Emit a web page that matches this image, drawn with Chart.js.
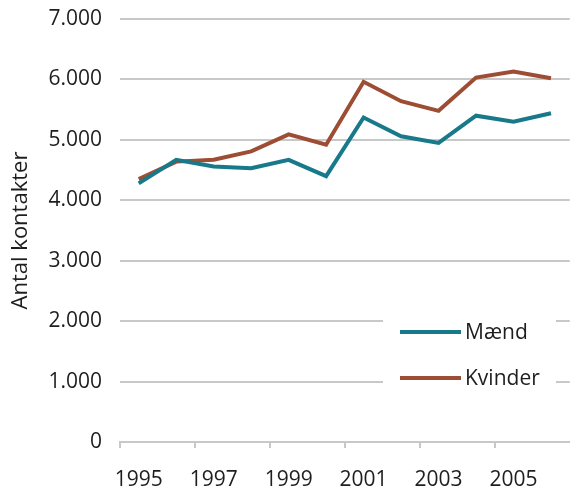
<!DOCTYPE html>
<html>
<head>
<meta charset="utf-8">
<script src="https://cdn.jsdelivr.net/npm/chart.js@4"></script>
<style>
  html, body { margin: 0; padding: 0; background: #fff; }
  #wrap { width: 570px; height: 486px; }
</style>
</head>
<body>
<div id="wrap"><canvas id="chart" width="570" height="486"></canvas></div>
<script>
// Kontakter pr. år
const years = ['1995', '1996', '1997', '1998', '1999', '2000', '2001', '2002', '2003', '2004', '2005', '2006'];
const maend = [4280, 4670, 4560, 4530, 4670, 4400, 5370, 5060, 4950, 5400, 5300, 5440];
const kvinder = [4350, 4640, 4670, 4810, 5090, 4920, 5960, 5640, 5480, 6030, 6130, 6020];
const yTicks = [0, 1000, 2000, 3000, 4000, 5000, 6000, 7000];

const FONT = '"Open Sans", sans-serif';
const GRID = '#c8c8c8';
const TXT = '#1e1e1e';

function fmt(v) {
    return String(v).replace(/\B(?=(\d{3})+(?!\d))/g, '.');
}

// legend box drawn inside the plot, bottom right
const insideLegend = {
    id: 'insideLegend',
    afterDatasetsDraw(chart) {
        const ctx = chart.ctx;
        ctx.save();
        ctx.fillStyle = '#fff';
        ctx.fillRect(383, 312, 173, 80);
        ctx.font = '21px ' + FONT;
        ctx.textBaseline = 'middle';
        chart.data.datasets.forEach((ds, i) => {
            const y = 332 + i * 46;
            ctx.strokeStyle = ds.borderColor;
            ctx.lineWidth = 4;
            ctx.beginPath();
            ctx.moveTo(400, y);
            ctx.lineTo(461, y);
            ctx.stroke();
            ctx.fillStyle = TXT;
            ctx.fillText(ds.label, 465, y + 1);
        });
        ctx.restore();
    }
};

new Chart(document.getElementById('chart'), {
    type: 'line',
    data: {
        labels: years,
        datasets: [
            { label: 'Mænd', data: maend, borderColor: '#17798a', borderWidth: 4, pointRadius: 0, tension: 0 },
            { label: 'Kvinder', data: kvinder, borderColor: '#9c4d33', borderWidth: 4, pointRadius: 0, tension: 0 }
        ]
    },
    options: {
        responsive: false,
        animation: false,
        layout: { padding: { top: 19, right: 0, left: 0, bottom: 0 } },
        plugins: { legend: { display: false }, tooltip: { enabled: false } },
        scales: {
            x: {
                offset: true,
                grid: {
                    offset: true, drawOnChartArea: false, lineWidth: 2, tickLength: 6,
                    tickColor: c => (c.index % 2 === 0 ? GRID : 'rgba(0,0,0,0)')
                },
                border: { color: GRID, width: 2 },
                ticks: {
                    autoSkip: false, maxRotation: 0, padding: 19,
                    color: TXT, font: { family: FONT, size: 21 },
                    callback: (v, i) => (i % 2 === 0 ? years[i] : '')
                },
                afterFit: s => { s.height = 44; }
            },
            y: {
                min: 0, max: 7000,
                afterBuildTicks: s => { s.ticks = yTicks.map(v => ({ value: v })); },
                grid: { color: GRID, lineWidth: 2, drawTicks: true, tickLength: 18, tickColor: 'rgba(0,0,0,0)' },
                border: { display: false },
                ticks: { padding: 0, color: TXT, font: { family: FONT, size: 21 }, callback: v => fmt(v) },
                title: { display: true, text: 'Antal kontakter', color: TXT, font: { family: FONT, size: 22 }, padding: { top: 8, bottom: 0 } },
                afterFit: s => { s.width = 120; }
            }
        }
    },
    plugins: [insideLegend]
});
</script>
</body>
</html>
